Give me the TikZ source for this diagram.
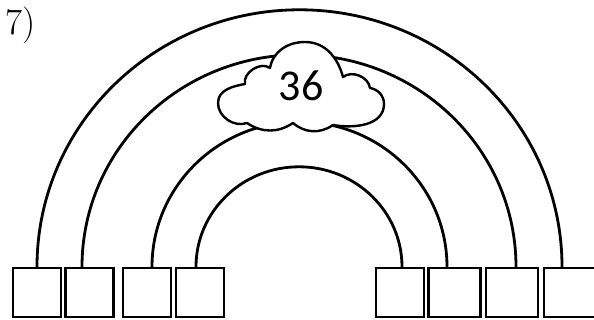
\documentclass[tikz,border=0pt]{standalone}
\usepackage{fontspec}
\newfontfamily\cloudfont{Carlito}
\usetikzlibrary{positioning}
\begin{document}
\begin{tikzpicture}[x=1pt,y=1pt,
      slot/.style={draw=black,line width=2.4pt,minimum width=48pt,
                   minimum height=49pt,inner sep=0pt},
      stripe/.style={draw=black,line width=2.8pt},
      puff/.style={draw=black,line width=2.4pt,fill=white,line join=round},
      tag/.style={inner sep=0pt}]
    \useasboundingbox (0,0) rectangle (594,320);
    \node[tag,font=\fontsize{37}{37}\selectfont,anchor=base west] (qno) at (5,285) {7)};
    % boxes at the feet of the bands
    \node[slot] (l1) at (37,27.5)  {};
    \node[slot] (l2) at (89.5,27.5) {};
    \node[slot] (l3) at (147,27.5) {};
    \node[slot] (l4) at (200,27.5) {};
    \node[slot] (r4) at (400,27.5) {};
    \node[slot,minimum width=52pt] (r3) at (454.5,27.5) {};
    \node[slot,minimum width=52pt] (r2) at (512,27.5) {};
    \node[slot,minimum width=52pt] (r1) at (570,27.5) {};
    % rainbow bands
    \draw[stripe] (l1.north) arc[start angle=180,end angle=0,x radius=262.5,y radius=257];
    \draw[stripe] ([xshift=-7.5pt]l2.north) arc[start angle=180,end angle=0,x radius=217,y radius=212];
    \draw[stripe] ([xshift=5pt]l3.north) arc[start angle=180,end angle=0,x radius=147.5,y radius=145];
    \draw[stripe] ([xshift=-4pt]l4.north) arc[start angle=180,end angle=0,x radius=103,y radius=100];
    % cloud
    \draw[puff] (245,236) to[out=190,in=90] (218,217) to[out=-90,in=200] (247,197)
      to[bend right=34] (293,197) to[bend right=38] (333,195)
      to[out=-10,in=-90] (384,216) to[out=90,in=-10] (370,232)
      to[bend right=60] (343,243)
      to[out=105,in=0] (305,278) to[out=180,in=80] (270,252)
      to[bend right=70] cycle;
    \node[tag,font=\cloudfont\fontsize{44}{44}\selectfont] (num) at (301,234) {36};
  \end{tikzpicture}
\end{document}
